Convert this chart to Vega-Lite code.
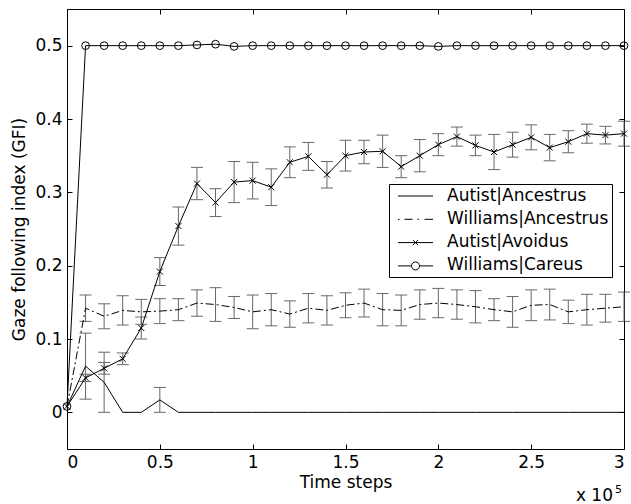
{
  "$schema": "https://vega.github.io/schema/vega-lite/v6.json",
  "width": 557,
  "height": 440,
  "autosize": {"type": "none"},
  "padding": {"left": 67, "top": 9, "right": 7, "bottom": 55},
  "background": "white",
  "config": {
    "font": "DejaVu Sans",
    "view": {"stroke": "black", "strokeWidth": 1},
    "axis": {
      "labelFontSize": 17, "titleFontSize": 17, "titleFontWeight": "normal",
      "labelColor": "black", "titleColor": "black", "tickColor": "black",
      "domain": false, "grid": false, "tickSize": -5, "tickWidth": 1
    }
  },
  "datasets": {
    "notes": [{"label": "x 10", "exp": "5", "t": 3, "v": -0.05}]
  },
  "data": {"values": [
    {"s":"Autist|Ancestrus","t":0,"v":0.008,"e":0},
    {"s":"Autist|Ancestrus","t":0.1,"v":0.063,"e":0.045},
    {"s":"Autist|Ancestrus","t":0.2,"v":0.041,"e":0.041},
    {"s":"Autist|Ancestrus","t":0.3,"v":0,"e":0},
    {"s":"Autist|Ancestrus","t":0.4,"v":0,"e":0},
    {"s":"Autist|Ancestrus","t":0.5,"v":0.017,"e":0.017},
    {"s":"Autist|Ancestrus","t":0.6,"v":0,"e":0},
    {"s":"Autist|Ancestrus","t":0.7,"v":0,"e":0},
    {"s":"Autist|Ancestrus","t":0.8,"v":0,"e":0},
    {"s":"Autist|Ancestrus","t":0.9,"v":0,"e":0},
    {"s":"Autist|Ancestrus","t":1.0,"v":0,"e":0},
    {"s":"Autist|Ancestrus","t":1.1,"v":0,"e":0},
    {"s":"Autist|Ancestrus","t":1.2,"v":0,"e":0},
    {"s":"Autist|Ancestrus","t":1.3,"v":0,"e":0},
    {"s":"Autist|Ancestrus","t":1.4,"v":0,"e":0},
    {"s":"Autist|Ancestrus","t":1.5,"v":0,"e":0},
    {"s":"Autist|Ancestrus","t":1.6,"v":0,"e":0},
    {"s":"Autist|Ancestrus","t":1.7,"v":0,"e":0},
    {"s":"Autist|Ancestrus","t":1.8,"v":0,"e":0},
    {"s":"Autist|Ancestrus","t":1.9,"v":0,"e":0},
    {"s":"Autist|Ancestrus","t":2.0,"v":0,"e":0},
    {"s":"Autist|Ancestrus","t":2.1,"v":0,"e":0},
    {"s":"Autist|Ancestrus","t":2.2,"v":0,"e":0},
    {"s":"Autist|Ancestrus","t":2.3,"v":0,"e":0},
    {"s":"Autist|Ancestrus","t":2.4,"v":0,"e":0},
    {"s":"Autist|Ancestrus","t":2.5,"v":0,"e":0},
    {"s":"Autist|Ancestrus","t":2.6,"v":0,"e":0},
    {"s":"Autist|Ancestrus","t":2.7,"v":0,"e":0},
    {"s":"Autist|Ancestrus","t":2.8,"v":0,"e":0},
    {"s":"Autist|Ancestrus","t":2.9,"v":0,"e":0},
    {"s":"Autist|Ancestrus","t":3.0,"v":0,"e":0},
    {"s":"Williams|Ancestrus","t":0,"v":0.008,"e":0},
    {"s":"Williams|Ancestrus","t":0.1,"v":0.142,"e":0.018},
    {"s":"Williams|Ancestrus","t":0.2,"v":0.131,"e":0.017},
    {"s":"Williams|Ancestrus","t":0.3,"v":0.139,"e":0.02},
    {"s":"Williams|Ancestrus","t":0.4,"v":0.137,"e":0.017},
    {"s":"Williams|Ancestrus","t":0.5,"v":0.138,"e":0.017},
    {"s":"Williams|Ancestrus","t":0.6,"v":0.14,"e":0.015},
    {"s":"Williams|Ancestrus","t":0.7,"v":0.149,"e":0.018},
    {"s":"Williams|Ancestrus","t":0.8,"v":0.147,"e":0.023},
    {"s":"Williams|Ancestrus","t":0.9,"v":0.143,"e":0.015},
    {"s":"Williams|Ancestrus","t":1.0,"v":0.137,"e":0.023},
    {"s":"Williams|Ancestrus","t":1.1,"v":0.14,"e":0.022},
    {"s":"Williams|Ancestrus","t":1.2,"v":0.134,"e":0.018},
    {"s":"Williams|Ancestrus","t":1.3,"v":0.142,"e":0.02},
    {"s":"Williams|Ancestrus","t":1.4,"v":0.139,"e":0.02},
    {"s":"Williams|Ancestrus","t":1.5,"v":0.146,"e":0.017},
    {"s":"Williams|Ancestrus","t":1.6,"v":0.149,"e":0.019},
    {"s":"Williams|Ancestrus","t":1.7,"v":0.14,"e":0.022},
    {"s":"Williams|Ancestrus","t":1.8,"v":0.139,"e":0.021},
    {"s":"Williams|Ancestrus","t":1.9,"v":0.147,"e":0.02},
    {"s":"Williams|Ancestrus","t":2.0,"v":0.149,"e":0.02},
    {"s":"Williams|Ancestrus","t":2.1,"v":0.147,"e":0.02},
    {"s":"Williams|Ancestrus","t":2.2,"v":0.144,"e":0.022},
    {"s":"Williams|Ancestrus","t":2.3,"v":0.14,"e":0.015},
    {"s":"Williams|Ancestrus","t":2.4,"v":0.137,"e":0.021},
    {"s":"Williams|Ancestrus","t":2.5,"v":0.146,"e":0.021},
    {"s":"Williams|Ancestrus","t":2.6,"v":0.147,"e":0.021},
    {"s":"Williams|Ancestrus","t":2.7,"v":0.137,"e":0.016},
    {"s":"Williams|Ancestrus","t":2.8,"v":0.14,"e":0.021},
    {"s":"Williams|Ancestrus","t":2.9,"v":0.142,"e":0.019},
    {"s":"Williams|Ancestrus","t":3.0,"v":0.144,"e":0.02},
    {"s":"Autist|Avoidus","t":0,"v":0.008,"e":0},
    {"s":"Autist|Avoidus","t":0.1,"v":0.047,"e":0.005},
    {"s":"Autist|Avoidus","t":0.2,"v":0.06,"e":0.008},
    {"s":"Autist|Avoidus","t":0.3,"v":0.073,"e":0.008},
    {"s":"Autist|Avoidus","t":0.4,"v":0.115,"e":0.015},
    {"s":"Autist|Avoidus","t":0.5,"v":0.192,"e":0.019},
    {"s":"Autist|Avoidus","t":0.6,"v":0.254,"e":0.026},
    {"s":"Autist|Avoidus","t":0.7,"v":0.312,"e":0.022},
    {"s":"Autist|Avoidus","t":0.8,"v":0.286,"e":0.019},
    {"s":"Autist|Avoidus","t":0.9,"v":0.314,"e":0.028},
    {"s":"Autist|Avoidus","t":1.0,"v":0.316,"e":0.025},
    {"s":"Autist|Avoidus","t":1.1,"v":0.307,"e":0.025},
    {"s":"Autist|Avoidus","t":1.2,"v":0.341,"e":0.021},
    {"s":"Autist|Avoidus","t":1.3,"v":0.349,"e":0.019},
    {"s":"Autist|Avoidus","t":1.4,"v":0.324,"e":0.018},
    {"s":"Autist|Avoidus","t":1.5,"v":0.35,"e":0.021},
    {"s":"Autist|Avoidus","t":1.6,"v":0.355,"e":0.016},
    {"s":"Autist|Avoidus","t":1.7,"v":0.356,"e":0.022},
    {"s":"Autist|Avoidus","t":1.8,"v":0.335,"e":0.015},
    {"s":"Autist|Avoidus","t":1.9,"v":0.35,"e":0.022},
    {"s":"Autist|Avoidus","t":2.0,"v":0.365,"e":0.015},
    {"s":"Autist|Avoidus","t":2.1,"v":0.376,"e":0.013},
    {"s":"Autist|Avoidus","t":2.2,"v":0.364,"e":0.014},
    {"s":"Autist|Avoidus","t":2.3,"v":0.355,"e":0.024},
    {"s":"Autist|Avoidus","t":2.4,"v":0.365,"e":0.017},
    {"s":"Autist|Avoidus","t":2.5,"v":0.375,"e":0.017},
    {"s":"Autist|Avoidus","t":2.6,"v":0.361,"e":0.018},
    {"s":"Autist|Avoidus","t":2.7,"v":0.369,"e":0.015},
    {"s":"Autist|Avoidus","t":2.8,"v":0.38,"e":0.013},
    {"s":"Autist|Avoidus","t":2.9,"v":0.378,"e":0.012},
    {"s":"Autist|Avoidus","t":3.0,"v":0.38,"e":0.017},
    {"s":"Williams|Careus","t":0,"v":0.008,"e":0},
    {"s":"Williams|Careus","t":0.1,"v":0.5,"e":0},
    {"s":"Williams|Careus","t":0.2,"v":0.5,"e":0},
    {"s":"Williams|Careus","t":0.3,"v":0.5,"e":0},
    {"s":"Williams|Careus","t":0.4,"v":0.5,"e":0},
    {"s":"Williams|Careus","t":0.5,"v":0.5,"e":0},
    {"s":"Williams|Careus","t":0.6,"v":0.5,"e":0},
    {"s":"Williams|Careus","t":0.7,"v":0.501,"e":0},
    {"s":"Williams|Careus","t":0.8,"v":0.502,"e":0},
    {"s":"Williams|Careus","t":0.9,"v":0.499,"e":0},
    {"s":"Williams|Careus","t":1.0,"v":0.5,"e":0},
    {"s":"Williams|Careus","t":1.1,"v":0.5,"e":0},
    {"s":"Williams|Careus","t":1.2,"v":0.5,"e":0},
    {"s":"Williams|Careus","t":1.3,"v":0.5,"e":0},
    {"s":"Williams|Careus","t":1.4,"v":0.5,"e":0},
    {"s":"Williams|Careus","t":1.5,"v":0.5,"e":0},
    {"s":"Williams|Careus","t":1.6,"v":0.5,"e":0},
    {"s":"Williams|Careus","t":1.7,"v":0.5,"e":0},
    {"s":"Williams|Careus","t":1.8,"v":0.5,"e":0},
    {"s":"Williams|Careus","t":1.9,"v":0.5,"e":0},
    {"s":"Williams|Careus","t":2.0,"v":0.499,"e":0},
    {"s":"Williams|Careus","t":2.1,"v":0.5,"e":0},
    {"s":"Williams|Careus","t":2.2,"v":0.5,"e":0},
    {"s":"Williams|Careus","t":2.3,"v":0.5,"e":0},
    {"s":"Williams|Careus","t":2.4,"v":0.5,"e":0},
    {"s":"Williams|Careus","t":2.5,"v":0.5,"e":0},
    {"s":"Williams|Careus","t":2.6,"v":0.5,"e":0},
    {"s":"Williams|Careus","t":2.7,"v":0.5,"e":0},
    {"s":"Williams|Careus","t":2.8,"v":0.5,"e":0},
    {"s":"Williams|Careus","t":2.9,"v":0.5,"e":0},
    {"s":"Williams|Careus","t":3.0,"v":0.5,"e":0}
  ]},
  "resolve": {"axis": {"x": "independent", "y": "independent"}},
  "layer": [
    {
      "transform": [{"filter": "datum.e > 0"}],
      "mark": {"type": "errorbar", "ticks": {"size": 12, "color": "#2a2a2a"}, "rule": {"color": "#666666"}},
      "encoding": {
        "x": {"field": "t", "type": "quantitative", "scale": {"domain": [0, 3], "nice": false, "zero": false}, "axis": null},
        "y": {"field": "v", "type": "quantitative", "scale": {"domain": [-0.05, 0.55], "nice": false, "zero": false}, "axis": null},
        "yError": {"field": "e"}
      }
    },
    {
      "transform": [{"filter": "datum.s !== 'Williams|Ancestrus'"}],
      "mark": {"type": "line", "color": "black", "strokeWidth": 1},
      "encoding": {
        "x": {"field": "t", "type": "quantitative", "scale": {"domain": [0, 3], "nice": false, "zero": false},
              "axis": {"orient": "bottom", "values": [0, 0.5, 1, 1.5, 2, 2.5, 3], "format": "~g", "labelPadding": 10, "title": "Time steps", "titlePadding": 4}},
        "y": {"field": "v", "type": "quantitative", "scale": {"domain": [-0.05, 0.55], "nice": false, "zero": false},
              "axis": {"orient": "left", "values": [0, 0.1, 0.2, 0.3, 0.4, 0.5], "format": "~g", "labelPadding": 10, "title": "Gaze following index (GFI)", "titlePadding": 6}},
        "detail": {"field": "s"}
      }
    },
    {
      "transform": [{"filter": "datum.s === 'Williams|Ancestrus'"}],
      "mark": {"type": "line", "color": "black", "strokeWidth": 1, "strokeDash": [8, 3, 2, 3]},
      "encoding": {
        "x": {"field": "t", "type": "quantitative", "scale": {"domain": [0, 3], "nice": false, "zero": false}, "axis": null},
        "y": {"field": "v", "type": "quantitative", "scale": {"domain": [-0.05, 0.55], "nice": false, "zero": false}, "axis": null}
      }
    },
    {
      "transform": [{"filter": "datum.s === 'Autist|Avoidus'"}],
      "mark": {"type": "point", "shape": "M-1,-1L1,1M-1,1L1,-1", "size": 36, "filled": false, "color": "black", "strokeWidth": 1, "opacity": 1},
      "encoding": {
        "x": {"field": "t", "type": "quantitative", "scale": {"domain": [0, 3], "nice": false, "zero": false},
              "axis": {"orient": "top", "values": [0, 0.5, 1, 1.5, 2, 2.5, 3], "labels": false, "title": null}},
        "y": {"field": "v", "type": "quantitative", "scale": {"domain": [-0.05, 0.55], "nice": false, "zero": false},
              "axis": {"orient": "right", "values": [0, 0.1, 0.2, 0.3, 0.4, 0.5], "labels": false, "title": null}}
      }
    },
    {
      "transform": [{"filter": "datum.s === 'Williams|Careus'"}],
      "mark": {"type": "point", "shape": "circle", "size": 60, "filled": false, "color": "black", "strokeWidth": 1, "opacity": 1},
      "encoding": {
        "x": {"field": "t", "type": "quantitative", "scale": {"domain": [0, 3], "nice": false, "zero": false}, "axis": null},
        "y": {"field": "v", "type": "quantitative", "scale": {"domain": [-0.05, 0.55], "nice": false, "zero": false}, "axis": null}
      }
    },
    {
      "mark": {"type": "point", "filled": false, "color": "black", "size": 0, "strokeWidth": 1},
      "encoding": {
        "x": {"field": "t", "type": "quantitative", "scale": {"domain": [0, 3], "nice": false, "zero": false}, "axis": null},
        "y": {"field": "v", "type": "quantitative", "scale": {"domain": [-0.05, 0.55], "nice": false, "zero": false}, "axis": null},
        "shape": {"field": "s", "type": "nominal",
          "scale": {"domain": ["Autist|Ancestrus", "Williams|Ancestrus", "Autist|Avoidus", "Williams|Careus"],
                    "range": ["M-3.5,0.1L3.5,0.1",
                              "M-3.5,0.1L-3.2,0.1M-2.2,0.1L-0.6,0.1M0.4,0.1L0.7,0.1M1.8,0.1L3.5,0.1",
                              "M-3.5,0.1L3.5,0.1M-0.5,-0.4L0.5,0.6M-0.5,0.6L0.5,-0.4",
                              "M-3.5,0.1L-0.8,0.1M0.8,0.1L3.5,0.1M-0.8,0.1A0.8,0.8 0 1,1 0.8,0.1A0.8,0.8 0 1,1 -0.8,0.1"]},
          "legend": {"title": null, "orient": "none", "legendX": 322, "legendY": 175,
                     "symbolSize": 100, "symbolOpacity": 1, "symbolStrokeColor": "black", "symbolStrokeWidth": 1,
                     "symbolOffset": 15, "labelOffset": 23,
                     "labelFont": "DejaVu Sans", "labelFontSize": 17, "labelColor": "black", "labelLimit": 300,
                     "strokeColor": "black", "fillColor": "white", "padding": 3, "rowPadding": 5.3}}
      }
    },
    {
      "data": {"name": "notes"},
      "mark": {"type": "text", "fontSize": 17, "align": "right", "baseline": "alphabetic", "dx": -11, "dy": 52, "color": "black"},
      "encoding": {
        "text": {"field": "label"},
        "x": {"field": "t", "type": "quantitative", "scale": {"domain": [0, 3], "nice": false, "zero": false}, "axis": null},
        "y": {"field": "v", "type": "quantitative", "scale": {"domain": [-0.05, 0.55], "nice": false, "zero": false}, "axis": null}
      }
    },
    {
      "data": {"name": "notes"},
      "mark": {"type": "text", "fontSize": 11, "align": "left", "baseline": "alphabetic", "dx": -9, "dy": 44, "color": "black"},
      "encoding": {
        "text": {"field": "exp"},
        "x": {"field": "t", "type": "quantitative", "scale": {"domain": [0, 3], "nice": false, "zero": false}, "axis": null},
        "y": {"field": "v", "type": "quantitative", "scale": {"domain": [-0.05, 0.55], "nice": false, "zero": false}, "axis": null}
      }
    }
  ]
}
